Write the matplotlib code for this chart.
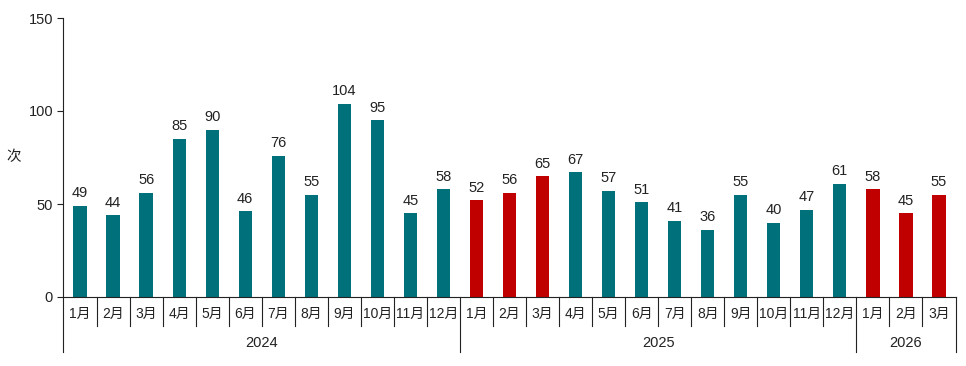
import matplotlib
matplotlib.use("Agg")
import matplotlib.pyplot as plt
import matplotlib.transforms as mtransforms
from matplotlib.lines import Line2D

plt.rcParams['font.family'] = ['Liberation Sans', 'Noto Sans CJK SC', 'DejaVu Sans']

years = ["2024", "2025", "2026"]
months_per_year = [12, 12, 3]
month_labels = [f"{m}月" for m in range(1, 13)] * 2 + ["1月", "2月", "3月"]
values = [49, 44, 56, 85, 90, 46, 76, 55, 104, 95, 45, 58,
          52, 56, 65, 67, 57, 51, 41, 36, 55, 40, 47, 61,
          58, 45, 55]
highlight = [False] * 12 + [True, True, True] + [False] * 9 + [True, True, True]

teal = "#00707A"
red = "#C00000"
colors = [red if h else teal for h in highlight]

fig = plt.figure(figsize=(9.66, 3.66), dpi=100)
ax = fig.add_axes([63.5 / 966, 69 / 366, 892 / 966, 279 / 366])

n = len(values)
x = list(range(n))
ax.bar(x, values, width=0.4, color=colors, zorder=2)
for xi, v in zip(x, values):
    ax.text(xi, v + 3, str(v), ha="center", va="bottom", fontsize=10.5, color="#222222")

ax.set_xlim(-0.5, n - 0.5)
ax.set_ylim(0, 150)
ax.set_yticks([0, 50, 100, 150])
ax.tick_params(axis="y", direction="out", length=4, labelsize=10.5, colors="#222222", width=0.8)
ax.set_xticks([])
for s in ["top", "right"]:
    ax.spines[s].set_visible(False)
ax.spines["left"].set_color("#222222")
ax.spines["bottom"].set_color("#222222")
ax.spines["left"].set_linewidth(0.8)
ax.spines["bottom"].set_linewidth(0.8)

ax.text(-0.056, 0.5, "次", transform=ax.transAxes, ha="center", va="center",
        fontsize=10.5, family=['Noto Sans CJK SC', 'DejaVu Sans'], color="#222222")

trans = mtransforms.blended_transform_factory(ax.transData, fig.transFigure)
def fy(py):
    return 1 - py / 366.0

# Month labels and separators
for i, lab in enumerate(month_labels):
    ax.text(i, fy(314), lab, transform=trans, ha="center", va="center",
            fontsize=10, family=['Liberation Sans', 'Noto Sans CJK SC'], color="#222222")
boundaries = []
acc = 0
for m in months_per_year:
    boundaries.append(acc)
    acc += m
boundaries.append(acc)
for i in range(n + 1):
    edge = i - 0.5
    if i in boundaries:
        y0, y1 = fy(297), fy(352)
    else:
        y0, y1 = fy(297), fy(326)
    fig.add_artist(Line2D([edge, edge], [y0, y1], transform=trans,
                          color="#222222", linewidth=0.8, clip_on=False))

for yi, yr in enumerate(years):
    start = boundaries[yi]
    end = boundaries[yi + 1]
    mid = (start + end - 1) / 2
    ax.text(mid, fy(343), yr, transform=trans, ha="center", va="center",
            fontsize=10.5, color="#222222")

fig.savefig("out.png", dpi=100)
